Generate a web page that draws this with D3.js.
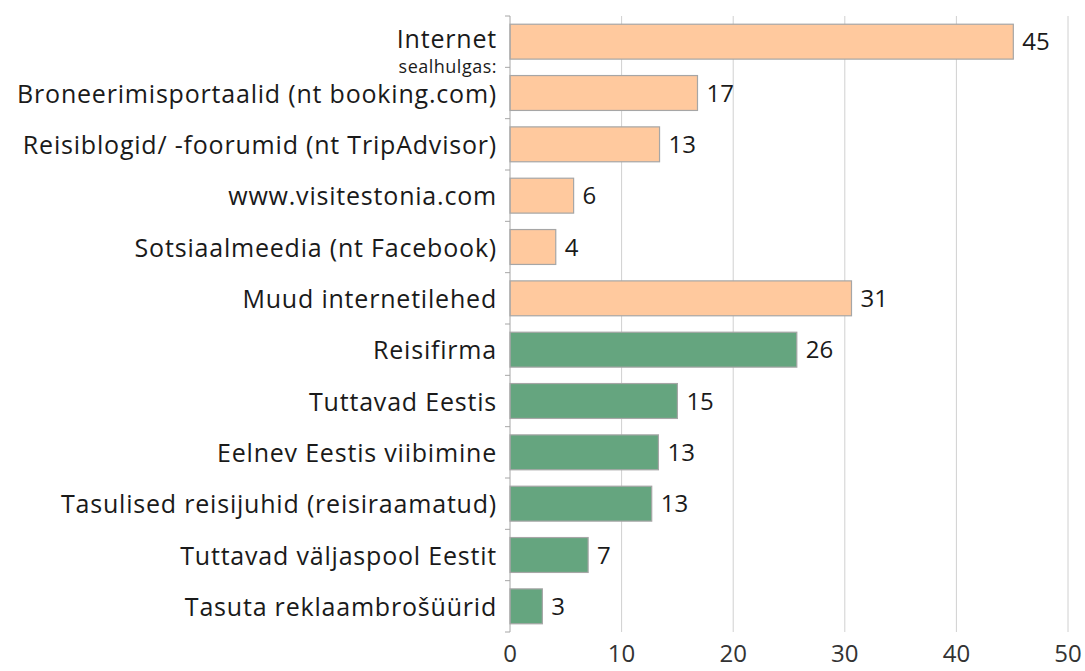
<!DOCTYPE html>
<html>
<head>
<meta charset="utf-8">
<script src="https://cdn.jsdelivr.net/npm/d3@7"></script>
<style>
  body { margin: 0; background: #fff; }
  text { font-family: "Open Sans", "Noto Sans", sans-serif; fill: #1a1a1a; }
</style>
</head>
<body>
<div id="chart"></div>
<script>
// categories top to bottom
const categories = [
    "Internet",
    "Broneerimisportaalid (nt booking.com)",
    "Reisiblogid/ -foorumid (nt TripAdvisor)",
    "www.visitestonia.com",
    "Sotsiaalmeedia (nt Facebook)",
    "Muud internetilehed",
    "Reisifirma",
    "Tuttavad Eestis",
    "Eelnev Eestis viibimine",
    "Tasulised reisijuhid (reisiraamatud)",
    "Tuttavad väljaspool Eestit",
    "Tasuta reklaambrošüürid"
];
const values = [45.1, 16.8, 13.4, 5.7, 4.1, 30.6, 25.7, 15.0, 13.3, 12.7, 7.0, 2.9];
const groups = ["web", "web", "web", "web", "web", "web", "other", "other", "other", "other", "other", "other"];
const xTicks = [0, 10, 20, 30, 40, 50];

const colors = { web: "#ffc99e", other: "#65a57f" };

const width = 1085, height = 671;
const margin = { top: 16, right: 17, bottom: 39, left: 510 };

var svg = d3.select("#chart")
    .append("svg")
    .attr("width", width)
    .attr("height", height);

var x = d3.scaleLinear()
    .domain([0, 50])
    .range([margin.left, width - margin.right]);

var y = d3.scaleBand()
    .domain(categories)
    .range([margin.top, height - margin.bottom])
    .paddingInner(0.32)
    .paddingOuter(0.16);

// gridlines
svg.append("g")
    .selectAll("line")
    .data(xTicks.slice(1))
    .enter()
    .append("line")
    .attr("x1", d => x(d))
    .attr("x2", d => x(d))
    .attr("y1", margin.top)
    .attr("y2", height - margin.bottom)
    .attr("stroke", "#d0d0d0")
    .attr("stroke-width", 1);

// bottom tick labels (no axis line)
svg.append("g")
    .selectAll("text")
    .data(xTicks)
    .enter()
    .append("text")
    .attr("x", d => x(d))
    .attr("y", height - 9)
    .attr("text-anchor", "middle")
    .style("font-size", "24px")
    .style("fill", "#333")
    .text(d => d);

// bars
svg.append("g")
    .selectAll("rect")
    .data(categories)
    .enter()
    .append("rect")
    .attr("x", x(0))
    .attr("y", d => y(d))
    .attr("width", (d, i) => x(values[i]) - x(0))
    .attr("height", y.bandwidth())
    .attr("fill", (d, i) => colors[groups[i]])
    .attr("stroke", "#a6a6a6")
    .attr("stroke-width", 1.2);

// value labels
svg.append("g")
    .selectAll("text")
    .data(categories)
    .enter()
    .append("text")
    .attr("x", (d, i) => x(values[i]) + 9)
    .attr("y", d => y(d) + y.bandwidth() / 2)
    .attr("dy", "0.36em")
    .style("font-size", "24px")
    .text((d, i) => Math.round(values[i]));

// left axis line with ticks between categories
var axisX = x(0);
svg.append("line")
    .attr("x1", axisX).attr("x2", axisX)
    .attr("y1", margin.top).attr("y2", height - margin.bottom)
    .attr("stroke", "#a6a6a6");

var step = y.step();
var boundaries = d3.range(categories.length + 1).map(i => margin.top + i * step);
svg.append("g")
    .selectAll("line")
    .data(boundaries)
    .enter()
    .append("line")
    .attr("x1", axisX - 5).attr("x2", axisX)
    .attr("y1", d => d).attr("y2", d => d)
    .attr("stroke", "#a6a6a6");

// category labels
svg.append("g")
    .selectAll("text")
    .data(categories)
    .enter()
    .append("text")
    .attr("x", axisX - 13)
    .attr("y", d => y(d) + y.bandwidth() / 2)
    .attr("dy", (d, i) => i === 0 ? "0.26em" : "0.38em")
    .attr("text-anchor", "end")
    .style("font-size", "25px")
    .style("letter-spacing", "0.8px")
    .text(d => d);

// sub heading under Internet
svg.append("text")
    .attr("x", axisX - 13)
    .attr("y", margin.top + step)
    .attr("dy", "0.3em")
    .attr("text-anchor", "end")
    .style("font-size", "18px")
    .style("letter-spacing", "0.5px")
    .text("sealhulgas:");
</script>
</body>
</html>
